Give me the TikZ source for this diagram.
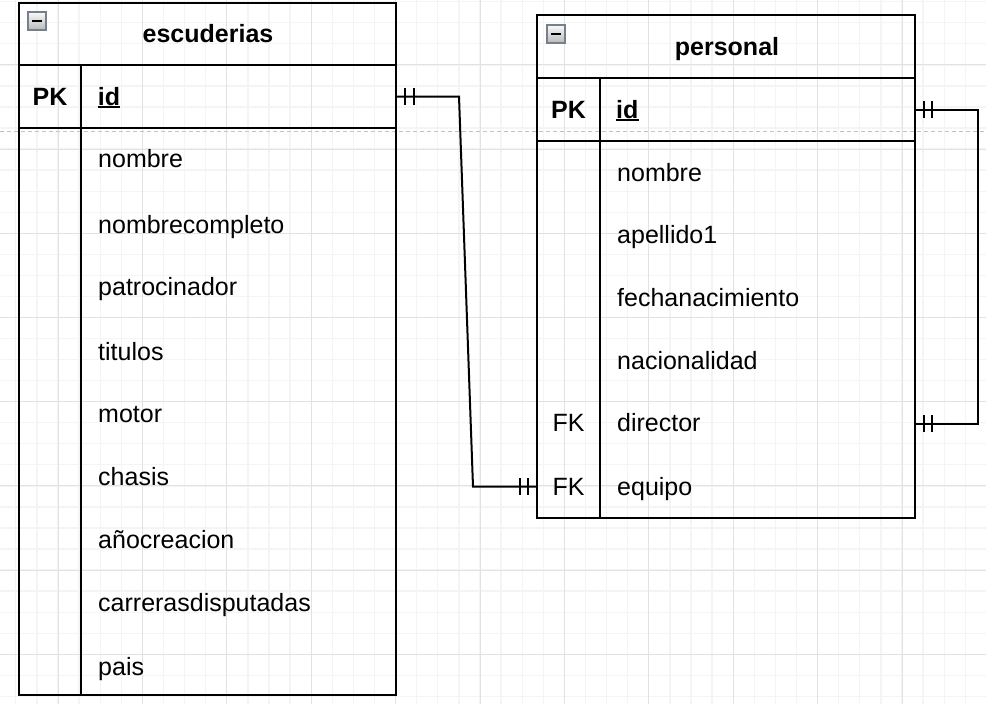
\documentclass[tikz,border=0pt]{standalone}
\usepackage{fontspec}
\setmainfont{Liberation Sans}
\usetikzlibrary{calc}
\definecolor{gminor}{HTML}{F4F4F4}
\definecolor{gmajor}{HTML}{E2E2E2}
\definecolor{pagebrk}{HTML}{C4C4C4}
\definecolor{iconborder}{HTML}{76808C}
\tikzset{
  gridminor/.style={draw=gminor, line width=1.3pt},
  gridmajor/.style={draw=gmajor, line width=1pt},
  tbl/.style={draw=black, line width=2pt},
  rowbox/.style={draw=none, inner sep=0pt, minimum height=63pt},
  txt/.style={inner sep=0pt, font=\fontsize{25}{30}\selectfont},
  fld/.style={txt, anchor=base west},
  keylbl/.style={txt, anchor=base},
  keyb/.style={txt, anchor=base, font=\fontsize{25}{30}\selectfont\bfseries},
  titletxt/.style={txt, anchor=base, font=\fontsize{25}{30}\selectfont\bfseries},
  conn/.style={draw=black, line width=2pt},
  barmark/.style={draw=black, line width=2pt},
  iconbox/.style={draw=iconborder, line width=1.2pt, top color=white!95!gray, bottom color=gray!55},
}
\begin{document}
\begin{tikzpicture}[x=1pt,y=-1pt]
\useasboundingbox (0,0) rectangle (986,704);
\fill[white] (0,0) rectangle (986,704);
% grid
\foreach \k in {0,...,46} {
  \pgfmathsetmacro\xx{15.8+21.1*\k}
  \draw[gridminor] (\xx,0) -- (\xx,704);
}
\foreach \k in {0,...,33} {
  \pgfmathsetmacro\yy{1.7+21.05*\k}
  \draw[gridminor] (0,\yy) -- (986,\yy);
}
\foreach \k in {2,6,...,46} {
  \pgfmathsetmacro\xx{15.8+21.1*\k}
  \draw[gridmajor] (\xx,0) -- (\xx,704);
}
\foreach \k in {3,7,...,31} {
  \pgfmathsetmacro\yy{1.7+21.05*\k}
  \draw[gridmajor] (0,\yy) -- (986,\yy);
}
% page break line
\draw[pagebrk, line width=1pt, dash pattern=on 4pt off 3pt] (0,131.7) -- (986,131.7);

% ---------- table escuderias ----------
\draw[tbl] (19,3) rectangle (396,695);
\draw[tbl] (19,65) -- (396,65);
\draw[tbl] (19,128) -- (396,128);
\draw[tbl] (81,65) -- (81,695);
\draw[iconbox] (28,12) rectangle (46,30);
\draw[black, line width=2.6pt] (32,21) -- (42,21);
\node[titletxt] (esc-title) at (208,42) {escuderias};
\node[rowbox, minimum width=377pt] (escid) at (207.5,96.5) {};
\node[keyb] (esc-pk) at (50,105) {PK};
\node[fld, font=\fontsize{25}{30}\selectfont\bfseries] (esc-idt) at (97.6,105) {id};
\draw[black, line width=2pt] ([yshift=-2.4pt]esc-idt.base west) -- ([yshift=-2.4pt]esc-idt.base east);
\foreach \t/\b [count=\i] in {nombre/167.5,nombrecompleto/233.5,patrocinador/295,titulos/360,motor/422.5,chasis/485,añocreacion/548.3,carrerasdisputadas/611.7,pais/675} {
  \node[fld] (esc-f\i) at (98,\b) {\t};
}

% ---------- table personal ----------
\draw[tbl] (537,15) rectangle (915,518);
\draw[tbl] (537,78) -- (915,78);
\draw[tbl] (537,141) -- (915,141);
\draw[tbl] (600,78) -- (600,518);
\draw[iconbox] (547,25) rectangle (565,43);
\draw[black, line width=2.6pt] (551,34) -- (561,34);
\node[titletxt] (per-title) at (727,55) {personal};
\node[rowbox, minimum width=378pt] (perid) at (726,109.5) {};
\node[keyb] (per-pk) at (568.5,118) {PK};
\node[fld, font=\fontsize{25}{30}\selectfont\bfseries] (per-idt) at (616,118) {id};
\draw[black, line width=2pt] ([yshift=-2.4pt]per-idt.base west) -- ([yshift=-2.4pt]per-idt.base east);
\foreach \t/\b [count=\i] in {nombre/181.5,apellido1/243.5,fechanacimiento/306.7,nacionalidad/369.8,director/431.8,equipo/495} {
  \node[fld] (per-f\i) at (617,\b) {\t};
}
\node[rowbox, minimum width=378pt] (perdirector) at (726,423.7) {};
\node[rowbox, minimum width=378pt] (perequipo) at (726,486.6) {};
\node[keylbl] (per-fk1) at (568.5,431.8) {FK};
\node[keylbl] (per-fk2) at (568.5,495) {FK};

% ---------- connectors ----------
\draw[conn] (escid.east) -- (459,96.5) -- (473,486.6) -- (perequipo.west);
\draw[barmark] ([xshift=9pt]escid.east) ++(0,-8.5) -- ++(0,17);
\draw[barmark] ([xshift=17.3pt]escid.east) ++(0,-8.5) -- ++(0,17);
\draw[barmark] ([xshift=-17pt]perequipo.west) ++(0,-8.5) -- ++(0,17);
\draw[barmark] ([xshift=-8.7pt]perequipo.west) ++(0,-8.5) -- ++(0,17);

\draw[conn] (perid.east) -- (978,109.5) -- (978,423.7) -- (perdirector.east);
\draw[barmark] ([xshift=8.3pt]perid.east) ++(0,-8.5) -- ++(0,17);
\draw[barmark] ([xshift=16.7pt]perid.east) ++(0,-8.5) -- ++(0,17);
\draw[barmark] ([xshift=8.3pt]perdirector.east) ++(0,-8.5) -- ++(0,17);
\draw[barmark] ([xshift=16.7pt]perdirector.east) ++(0,-8.5) -- ++(0,17);
\end{tikzpicture}
\end{document}
